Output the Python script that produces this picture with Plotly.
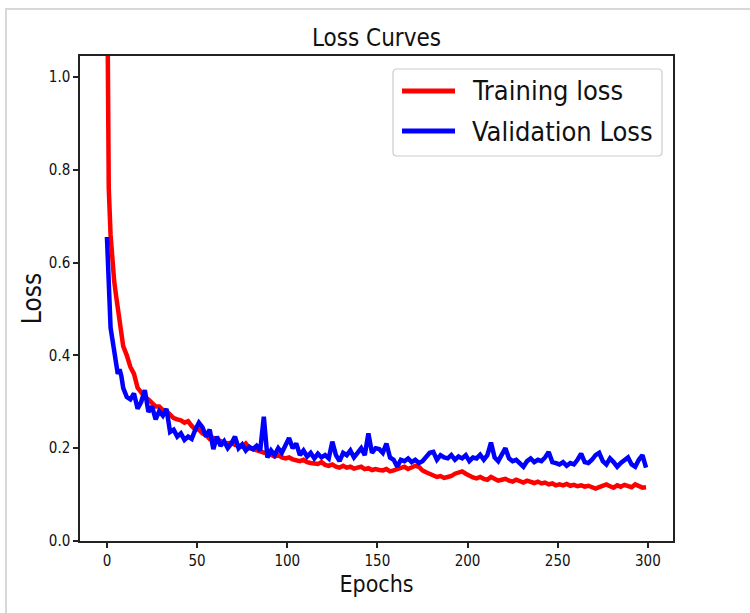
import plotly.graph_objects as go

epochs = list(range(0, 10)) + list(range(11, 300, 2))

train_loss = [
    1.30, 0.76, 0.66, 0.60, 0.56, 0.53, 0.50, 0.47, 0.44, 0.42,
    # 11 .. 29
    0.40, 0.375, 0.36, 0.33, 0.32, 0.31, 0.305, 0.297, 0.29, 0.29,
    # 31 .. 49
    0.282, 0.28, 0.272, 0.265, 0.262, 0.26, 0.255, 0.258, 0.248, 0.24,
    # 51 .. 69
    0.24, 0.232, 0.228, 0.22, 0.222, 0.218, 0.215, 0.212, 0.21, 0.212,
    # 71 .. 89
    0.207, 0.205, 0.203, 0.21, 0.20, 0.198, 0.195, 0.192, 0.19, 0.188,
    # 91 .. 109
    0.186, 0.182, 0.185, 0.18, 0.178, 0.18, 0.176, 0.175, 0.172, 0.175,
    # 111 .. 129
    0.17, 0.168, 0.168, 0.166, 0.17, 0.164, 0.162, 0.165, 0.16, 0.158,
    # 131 .. 149
    0.162, 0.158, 0.16, 0.156, 0.158, 0.16, 0.155, 0.157, 0.153, 0.155,
    # 151 .. 169
    0.153, 0.152, 0.155, 0.15, 0.152, 0.155, 0.158, 0.16, 0.155, 0.158,
    # 171 .. 189
    0.162, 0.16, 0.152, 0.148, 0.145, 0.14, 0.138, 0.14, 0.136, 0.138,
    # 191 .. 209
    0.14, 0.145, 0.148, 0.15, 0.145, 0.14, 0.137, 0.135, 0.138, 0.134,
    # 211 .. 229
    0.132, 0.138, 0.135, 0.13, 0.132, 0.134, 0.13, 0.128, 0.132, 0.128,
    # 231 .. 249
    0.126, 0.13, 0.127, 0.125, 0.128, 0.124, 0.126, 0.122, 0.124, 0.12,
    # 251 .. 269
    0.122, 0.12, 0.123, 0.119, 0.121, 0.118, 0.12, 0.117, 0.119, 0.115,
    # 271 .. 289
    0.113, 0.116, 0.12, 0.122, 0.118, 0.115, 0.12, 0.117, 0.121, 0.118,
    # 291 .. 299
    0.116, 0.122, 0.118, 0.115, 0.116,
]

val_loss = [
    0.655, 0.53, 0.46, 0.435, 0.41, 0.39, 0.36, 0.37, 0.355, 0.33,
    # 11 .. 29
    0.31, 0.305, 0.318, 0.285, 0.30, 0.325, 0.278, 0.29, 0.262, 0.28,
    # 31 .. 49
    0.27, 0.285, 0.235, 0.24, 0.225, 0.232, 0.218, 0.225, 0.22, 0.24,
    # 51 .. 69
    0.255, 0.245, 0.225, 0.24, 0.198, 0.225, 0.205, 0.215, 0.20, 0.21,
    # 71 .. 89
    0.225, 0.20, 0.208, 0.195, 0.203, 0.198, 0.205, 0.195, 0.268, 0.18,
    # 91 .. 109
    0.195, 0.185, 0.20, 0.19, 0.205, 0.222, 0.20, 0.21, 0.185, 0.195,
    # 111 .. 129
    0.182, 0.19, 0.178, 0.188, 0.18, 0.185, 0.178, 0.214, 0.185, 0.172,
    # 131 .. 149
    0.19, 0.185, 0.195, 0.18, 0.19, 0.20, 0.185, 0.232, 0.19, 0.20,
    # 151 .. 169
    0.198, 0.19, 0.21, 0.18, 0.175, 0.16, 0.175, 0.172, 0.178, 0.17,
    # 171 .. 189
    0.175, 0.168, 0.172, 0.18, 0.19, 0.192, 0.175, 0.185, 0.18, 0.178,
    # 191 .. 209
    0.185, 0.175, 0.182, 0.178, 0.185, 0.172, 0.18, 0.178, 0.186, 0.175,
    # 211 .. 229
    0.185, 0.212, 0.18, 0.172, 0.185, 0.20, 0.178, 0.172, 0.175, 0.168,
    # 231 .. 249
    0.16, 0.172, 0.178, 0.17, 0.175, 0.172, 0.18, 0.192, 0.17, 0.168,
    # 251 .. 269
    0.165, 0.17, 0.162, 0.168, 0.165, 0.175, 0.188, 0.17, 0.168, 0.175,
    # 271 .. 289
    0.185, 0.19, 0.172, 0.165, 0.178, 0.17, 0.16, 0.168, 0.175, 0.18,
    # 291 .. 299
    0.165, 0.16, 0.175, 0.185, 0.158,
]

series_names = ["Training loss", "Validation Loss"]
series_colors = ["#ff0000", "#0000ff"]
x_ticks = [0, 50, 100, 150, 200, 250, 300]
y_ticks = [0.0, 0.2, 0.4, 0.6, 0.8, 1.0]

FONT = "Liberation Sans Narrow, DejaVu Sans Condensed, Arial Narrow, sans-serif"

# plot-area pixel geometry (for paper-coordinate helpers)
L, R, T, B = 80, 673, 56, 541
W, H = 750, 613


def px(xp):
    return (xp - L) / (R - L)


def py(yp):
    return (B - yp) / (B - T)


fig = go.Figure()
for name, color, vals in zip(series_names, series_colors, [train_loss, val_loss]):
    fig.add_trace(go.Scatter(x=epochs, y=vals, mode="lines", name=name,
                             line=dict(color=color, width=4.5), showlegend=False))

axis_common = dict(
    showgrid=False, zeroline=False, showline=True, linecolor="#222222", linewidth=1.5,
    mirror=True, ticks="outside", ticklen=5, tickwidth=1.5, tickcolor="#222222",
    tickfont=dict(family=FONT, size=15, color="#111111"),
)

fig.update_layout(
    width=W, height=H,
    paper_bgcolor="white", plot_bgcolor="white",
    margin=dict(l=L, r=W - R, t=T, b=H - B, autoexpand=False),
    font=dict(family=FONT, color="#111111"),
    title=dict(text="Loss Curves", x=0.5, xref="paper", y=1 - 38 / H, yref="container",
               xanchor="center", yanchor="middle", font=dict(family=FONT, size=24, color="#111111")),
    xaxis=dict(axis_common, range=[-14.95, 313.95], tickvals=x_ticks,
               title=dict(text="Epochs", font=dict(family=FONT, size=23), standoff=7)),
    yaxis=dict(axis_common, range=[0, 1.045], tickvals=y_ticks, tickformat=".1f",
               title=dict(text="Loss", font=dict(family=FONT, size=26), standoff=0)),
    showlegend=False,
)

# light outer frame around the picture
fig.add_shape(type="rect", xref="paper", yref="paper",
              x0=px(6), x1=px(770), y0=py(640), y1=py(9),
              line=dict(color="#d8d8d8", width=2), fillcolor="rgba(0,0,0,0)", layer="below")

# legend box (rounded), drawn in the style of matplotlib
bx0, bx1, by0, by1, r = 393, 662, 69, 156, 4
path = (
    f"M {px(bx0 + r)},{py(by0)} L {px(bx1 - r)},{py(by0)} "
    f"Q {px(bx1)},{py(by0)} {px(bx1)},{py(by0 + r)} L {px(bx1)},{py(by1 - r)} "
    f"Q {px(bx1)},{py(by1)} {px(bx1 - r)},{py(by1)} L {px(bx0 + r)},{py(by1)} "
    f"Q {px(bx0)},{py(by1)} {px(bx0)},{py(by1 - r)} L {px(bx0)},{py(by0 + r)} "
    f"Q {px(bx0)},{py(by0)} {px(bx0 + r)},{py(by0)} Z"
)
fig.add_shape(type="path", path=path, xref="paper", yref="paper",
              line=dict(color="#cccccc", width=1.2), fillcolor="rgba(255,255,255,0.85)", layer="above")

for i, (name, color) in enumerate(zip(series_names, series_colors)):
    yrow = 91 + 40 * i
    fig.add_shape(type="line", xref="paper", yref="paper",
                  x0=px(402), x1=px(455), y0=py(yrow), y1=py(yrow),
                  line=dict(color=color, width=5), layer="above")
    fig.add_annotation(text=name, xref="paper", yref="paper", x=px(470), y=py(yrow),
                       xanchor="left", yanchor="middle", showarrow=False,
                       font=dict(family=FONT, size=27, color="#111111"))

fig.write_html("out.html")
